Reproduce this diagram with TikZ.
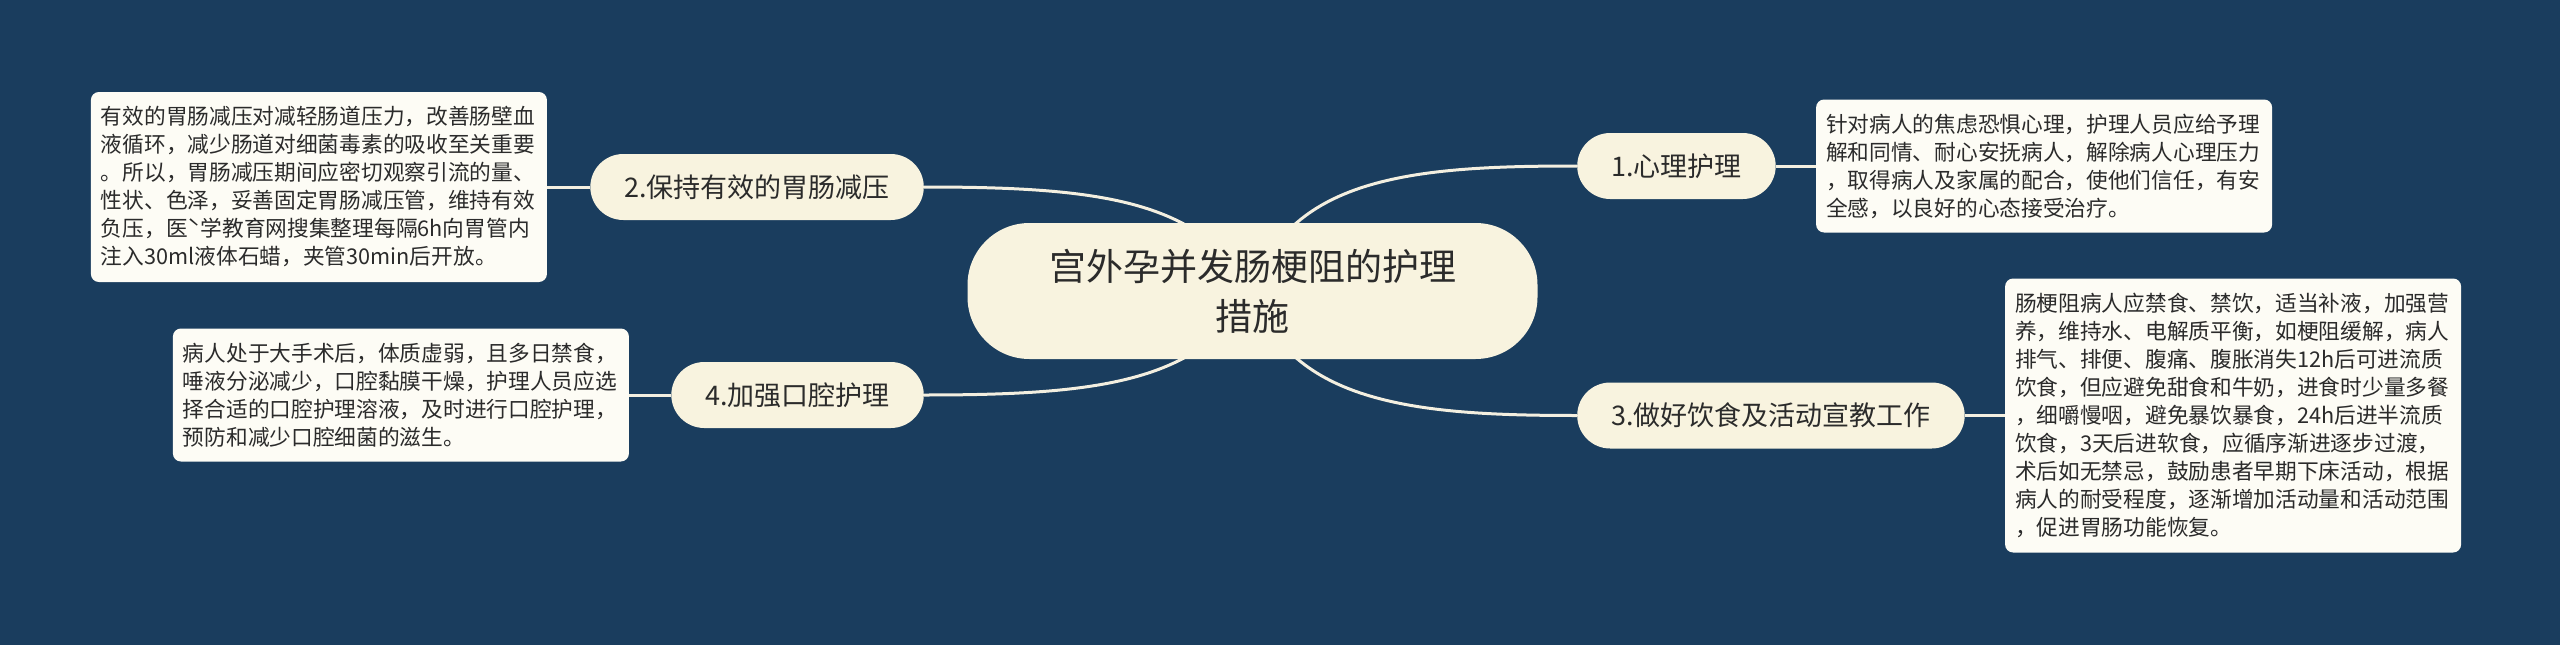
\documentclass[tikz,border=0pt]{standalone}
\usepackage{fontspec}
\setmainfont{Noto Sans CJK SC}
\setlength{\parindent}{0pt}
\pgfdeclarelayer{back}
\pgfdeclarelayer{bg}
\pgfsetlayers{back,bg,main}
\definecolor{bgc}{HTML}{1A3D5E}
\definecolor{nodec}{HTML}{F8F3DF}
\definecolor{descc}{HTML}{FDFCF5}
\definecolor{linec}{HTML}{F3EFE0}
\definecolor{txtc}{HTML}{2B2B2B}
\begin{document}
\begin{tikzpicture}[x=1pt,y=-1pt,
  rootbox/.style={fill=nodec, rounded corners=62pt, minimum width=570pt, minimum height=136pt,
    align=center, text=txtc, font=\fontsize{37pt}{50pt}\selectfont, inner sep=0pt},
  topic/.style={fill=nodec, rounded corners=33pt, minimum height=66pt, inner xsep=34pt,
    inner ysep=0pt, text=txtc, font=\fontsize{27pt}{32pt}\selectfont},
  descbox/.style={fill=descc, rounded corners=8pt, text width=436pt, inner xsep=10pt,
    inner ysep=0pt, align=left, text=txtc, font=\fontsize{21.7pt}{28pt}\selectfont},
  link/.style={draw=linec, line width=3pt}]
\begin{pgfonlayer}{back}
\fill[bgc] (0,0) rectangle (2560,645);
\end{pgfonlayer}
\useasboundingbox (0,0) rectangle (2560,645);

\node[rootbox] (root) at (1252.5,291) {宫外孕并发肠梗阻的护理\\措施};

\node[topic, anchor=west] (t1) at (1577,166) {1.心理护理};
\node[topic, anchor=east] (t2) at (924,187) {2.保持有效的胃肠减压};
\node[topic, anchor=west] (t3) at (1577,415.5) {3.做好饮食及活动宣教工作};
\node[topic, anchor=east] (t4) at (924,395) {4.加强口腔护理};

\node[descbox, anchor=west, minimum height=133pt] (d1) at ([xshift=40pt]t1.east)
  {针对病人的焦虑恐惧心理，护理人员应给予理\\
   解和同情、耐心安抚病人，解除病人心理压力\\
   ，取得病人及家属的配合，使他们信任，有安\\
   全感，以良好的心态接受治疗。};
\node[descbox, anchor=east, minimum height=190pt] (d2) at ([xshift=-43pt]t2.west)
  {有效的胃肠减压对减轻肠道压力，改善肠壁血\\
   液循环，减少肠道对细菌毒素的吸收至关重要\\
   。所以，胃肠减压期间应密切观察引流的量、\\
   性状、色泽，妥善固定胃肠减压管，维持有效\\
   负压，医ˋ学教育网搜集整理每隔6h向胃管内\\
   注入30ml液体石蜡，夹管30min后开放。};
\node[descbox, anchor=west, minimum height=274pt] (d3) at ([xshift=40pt]t3.east)
  {肠梗阻病人应禁食、禁饮，适当补液，加强营\\
   养，维持水、电解质平衡，如梗阻缓解，病人\\
   排气、排便、腹痛、腹胀消失12h后可进流质\\
   饮食，但应避免甜食和牛奶，进食时少量多餐\\
   ，细嚼慢咽，避免暴饮暴食，24h后进半流质\\
   饮食，3天后进软食，应循序渐进逐步过渡，\\
   术后如无禁忌，鼓励患者早期下床活动，根据\\
   病人的耐受程度，逐渐增加活动量和活动范围\\
   ，促进胃肠功能恢复。};
\node[descbox, anchor=east, minimum height=133pt] (d4) at ([xshift=-42pt]t4.west)
  {病人处于大手术后，体质虚弱，且多日禁食，\\
   唾液分泌减少，口腔黏膜干燥，护理人员应选\\
   择合适的口腔护理溶液，及时进行口腔护理，\\
   预防和减少口腔细菌的滋生。};

\begin{pgfonlayer}{bg}
\draw[link] (root.center) .. controls +(37.5,-116) and +(-157,0) .. (t1.west);
\draw[link] (root.center) .. controls +(-52.5,-91) and +(176,0) .. (t2.east);
\draw[link] (root.center) .. controls +(37.5,114) and +(-157,0) .. (t3.west);
\draw[link] (root.center) .. controls +(-52.5,91) and +(176,0) .. (t4.east);
\draw[link] (t1.east) -- (d1.west);
\draw[link] (t2.west) -- (d2.east);
\draw[link] (t3.east) -- (d3.west);
\draw[link] (t4.west) -- (d4.east);
\end{pgfonlayer}
\end{tikzpicture}
\end{document}
